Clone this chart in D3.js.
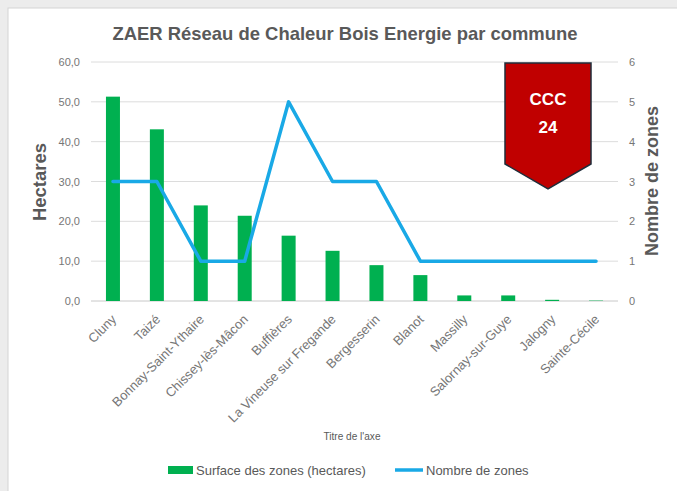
<!DOCTYPE html>
<html>
<head>
<meta charset="utf-8">
<script src="https://cdn.jsdelivr.net/npm/d3@7"></script>
<style>
  body { margin: 0; background: #ececec; }
  svg { display: block; }
</style>
</head>
<body>
<svg id="chart" width="677" height="491"></svg>
<script>
// data
const communes = ["Cluny", "Taizé", "Bonnay-Saint-Ythaire", "Chissey-lès-Mâcon", "Buffières",
  "La Vineuse sur Fregande", "Bergesserin", "Blanot", "Massilly", "Salornay-sur-Guye", "Jalogny", "Sainte-Cécile"];
const surface = [51.3, 43.1, 24.0, 21.4, 16.4, 12.6, 9.0, 6.5, 1.4, 1.4, 0.3, 0.1];
const nbZones = [3, 3, 1, 1, 5, 3, 3, 1, 1, 1, 1, 1];
const leftTicks = [0, 10, 20, 30, 40, 50, 60];
const rightTicks = [0, 1, 2, 3, 4, 5, 6];

const svg = d3.select("#chart");
const W = 677, H = 491;
const m = { left: 91, right: 618, top: 62, bottom: 301 };

const grey = "#595959", tickGrey = "#767676";
const green = "#00b050", blue = "#19a9e6";
const font = "Liberation Sans, Arial, sans-serif";

// card
svg.append("rect").attr("x", 0).attr("y", 0).attr("width", W).attr("height", H).attr("fill", "#ececec");
svg.append("rect").attr("x", 8).attr("y", 8).attr("width", W).attr("height", H)
  .attr("fill", "#fff").attr("stroke", "#d4d4d4");

const x = d3.scaleBand().domain(communes).range([m.left, m.right]);
const yL = d3.scaleLinear().domain([0, 60]).range([m.bottom, m.top]);
const yR = d3.scaleLinear().domain([0, 6]).range([m.bottom, m.top]);

// gridlines
svg.append("g").selectAll("line").data(leftTicks).join("line")
  .attr("x1", m.left).attr("x2", m.right)
  .attr("y1", d => yL(d)).attr("y2", d => yL(d))
  .attr("stroke", d => d === 0 ? "#c8c8c8" : "#dcdcdc").attr("stroke-width", 1);

// left axis
const fmt = d => d3.format(".1f")(d).replace(".", ",");
const axL = svg.append("g").attr("transform", `translate(${m.left - 8},0)`)
  .call(d3.axisLeft(yL).tickValues(leftTicks).tickFormat(fmt).tickSize(0));
axL.select(".domain").remove();
axL.selectAll("text").attr("fill", tickGrey).attr("font-family", font).attr("font-size", 11);

// right axis
const axR = svg.append("g").attr("transform", `translate(${m.right + 8},0)`)
  .call(d3.axisRight(yR).tickValues(rightTicks).tickFormat(d3.format("d")).tickSize(0));
axR.select(".domain").remove();
axR.selectAll("text").attr("fill", tickGrey).attr("font-family", font).attr("font-size", 11);

// bars
const bw = 14;
svg.append("g").selectAll("rect").data(communes).join("rect")
  .attr("x", d => x(d) + x.bandwidth() / 2 - bw / 2)
  .attr("y", (d, i) => yL(surface[i]))
  .attr("width", bw)
  .attr("height", (d, i) => yL(0) - yL(surface[i]))
  .attr("fill", green);

// line
const line = d3.line().x(d => x(d[0]) + x.bandwidth() / 2).y(d => yR(d[1]));
svg.append("path").datum(communes.map((c, i) => [c, nbZones[i]]))
  .attr("d", line).attr("fill", "none").attr("stroke", blue)
  .attr("stroke-width", 3.5).attr("stroke-linejoin", "round").attr("stroke-linecap", "round");

// category labels
const axB = svg.append("g").attr("transform", `translate(0,${m.bottom})`)
  .call(d3.axisBottom(x).tickSize(0));
axB.select(".domain").remove();
axB.selectAll("text")
  .attr("fill", tickGrey).attr("font-family", font).attr("font-size", 13)
  .attr("text-anchor", "end")
  .attr("dy", 0)
  .attr("transform", "translate(2,17) rotate(-45)");

// titles
svg.append("text").attr("x", 345).attr("y", 40).attr("text-anchor", "middle")
  .attr("font-family", font).attr("font-weight", "bold")
  .attr("font-size", 19).attr("fill", grey)
  .attr("textLength", 465).attr("lengthAdjust", "spacingAndGlyphs")
  .text("ZAER Réseau de Chaleur Bois Energie par commune");

svg.append("text").attr("transform", "translate(46,182) rotate(-90)").attr("text-anchor", "middle")
  .attr("font-family", font).attr("font-weight", "bold")
  .attr("font-size", 18.5).attr("fill", grey).text("Hectares");

svg.append("text").attr("transform", "translate(658,181) rotate(-90)").attr("text-anchor", "middle")
  .attr("font-family", font).attr("font-weight", "bold")
  .attr("font-size", 18).attr("fill", grey).text("Nombre de zones");

svg.append("text").attr("x", 352).attr("y", 440).attr("text-anchor", "middle")
  .attr("font-family", font)
  .attr("font-size", 10).attr("fill", grey)
  .attr("textLength", 57).attr("lengthAdjust", "spacingAndGlyphs")
  .text("Titre de l'axe");

// legend
const lg = svg.append("g").attr("font-family", font).attr("font-size", 13).attr("fill", grey);
lg.append("rect").attr("x", 168).attr("y", 466).attr("width", 25).attr("height", 8).attr("fill", green);
lg.append("text").attr("x", 196).attr("y", 475).text("Surface des zones (hectares)");
lg.append("line").attr("x1", 395).attr("x2", 423).attr("y1", 470).attr("y2", 470)
  .attr("stroke", blue).attr("stroke-width", 3.5);
lg.append("text").attr("x", 426).attr("y", 475).text("Nombre de zones");

// CCC badge
const badge = [[505, 63], [591, 63], [591, 164], [548, 189], [505, 164]];
svg.append("path").attr("d", "M" + badge.join("L") + "Z")
  .attr("fill", "#c00000").attr("stroke", "#1f2d3a").attr("stroke-width", 1.5);
svg.append("text").attr("x", 548).attr("y", 105).attr("text-anchor", "middle")
  .attr("font-family", font).attr("font-weight", "bold")
  .attr("font-size", 17).attr("fill", "#fff").text("CCC");
svg.append("text").attr("x", 548).attr("y", 133).attr("text-anchor", "middle")
  .attr("font-family", font).attr("font-weight", "bold")
  .attr("font-size", 17).attr("fill", "#fff").text("24");
</script>
</body>
</html>
